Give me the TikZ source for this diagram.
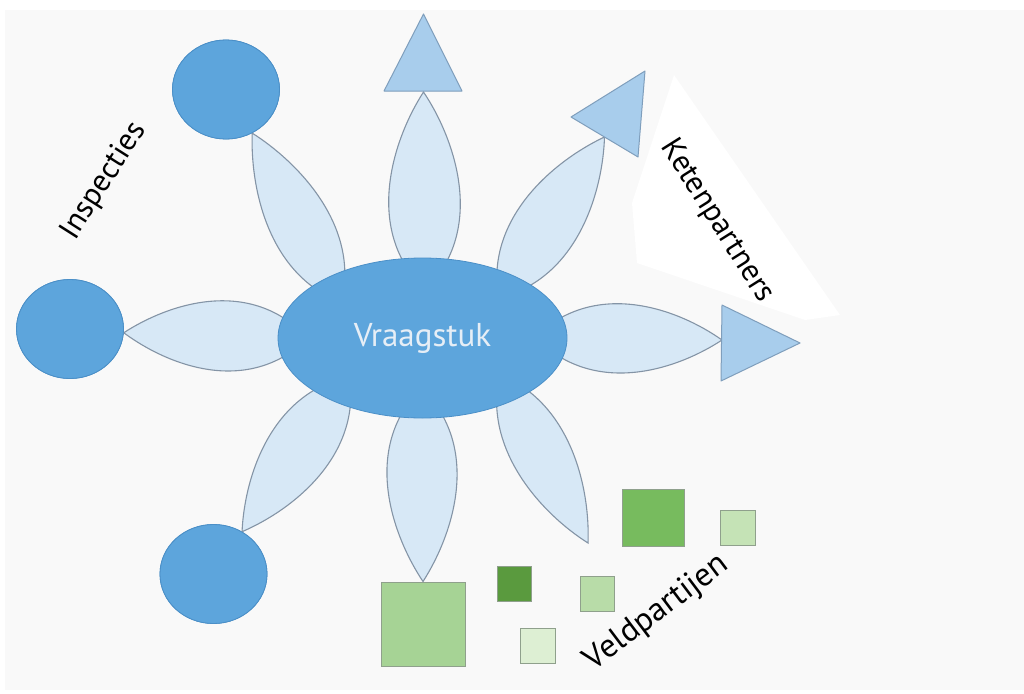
\documentclass[tikz,border=0pt]{standalone}
\usepackage{fontspec}
\setmainfont{PT Sans}
\usetikzlibrary{shapes.geometric,calc}
\definecolor{bgc}{HTML}{F9F9F9}
\definecolor{blobfill}{HTML}{5DA5DC}
\definecolor{blobline}{HTML}{4B8FC7}
\definecolor{trifill}{HTML}{A8CDEC}
\definecolor{triline}{HTML}{7F9EBC}
\definecolor{petfill}{HTML}{D7E8F6}
\definecolor{petline}{HTML}{8494A6}
\definecolor{sqline}{HTML}{8FA08C}
\definecolor{gA}{HTML}{A6D395}
\definecolor{gB}{HTML}{5A9A3E}
\definecolor{gC}{HTML}{77BB5E}
\definecolor{gD}{HTML}{C5E3B6}
\definecolor{gE}{HTML}{B8DCA8}
\definecolor{gF}{HTML}{DDEFD3}
\definecolor{vtext}{HTML}{E6EEF6}
\newcommand\petal[4]{%
  \draw[petalst] ($(#1)!-30pt!(#2)$)
    .. controls ($(#1)!30pt!(#2)!#3pt!90:(#2)$) and ($(#1)!0.72!(#2)!#4pt!90:(#2)$) .. (#2)
    .. controls ($(#1)!0.72!(#2)!#4pt!-90:(#2)$) and ($(#1)!30pt!(#2)!#3pt!-90:(#2)$) .. cycle;}
\begin{document}
\begin{tikzpicture}[x=1pt,y=-1pt,
  petalst/.style={fill=petfill,draw=petline,line width=1.1pt},
  blob/.style={ellipse,fill=blobfill,draw=blobline,line width=0.8pt,inner sep=0pt,minimum width=107pt,minimum height=99pt},
  bigell/.style={ellipse,fill=blobfill,draw=blobline,line width=0.8pt,inner sep=0pt,minimum width=289pt,minimum height=160pt,text=vtext,font=\fontsize{33}{38}\selectfont},
  tri/.style={fill=trifill,draw=triline,line width=1pt,line join=round},
  sq/.style={rectangle,draw=sqline,line width=1pt,inner sep=0pt},
  lbl/.style={font=\fontsize{31}{36}\selectfont,text=black,inner sep=0pt}]
\useasboundingbox (0,0) rectangle (1024,693);
\fill[white] (0,0) rectangle (1024,693);
\fill[bgc] (5,10) rectangle (1024,690);
\fill[white] (674,75) -- (632,203) -- (637,263) -- (805,320) -- (840,315) -- cycle;
% anchor nodes
\node[blob] (C1) at (226,89.5) {};
\node[blob] (C2) at (70,329) {};
\node[blob] (C3) at (213.5,574) {};
\node[sq,fill=gA,minimum width=84pt,minimum height=84pt] (S1) at (423,624) {};
% petal bases and free tips
\coordinate (B1) at (327.5,276);
\coordinate (B2) at (425,260);
\coordinate (B3) at (515,273);
\coordinate (B4) at (278,337.5);
\coordinate (B5) at (565,337.5);
\coordinate (B6) at (332.5,401);
\coordinate (B7) at (421.5,418);
\coordinate (B8) at (513.5,401);
\coordinate (T2) at (423.5,92);
\coordinate (T3) at (604.5,137);
\coordinate (T5) at (722,340);
\coordinate (T8) at (588,543);
% petals
\petal{B1}{C1.-59}{53}{26}
\petal{B2}{T2}{62}{31}
\petal{B3}{T3}{56}{28}
\petal{B4}{C2.-4}{61}{30}
\petal{B5}{T5}{60}{30}
\petal{B6}{C3.56}{56}{28}
\petal{B7}{S1.north}{61}{30}
\petal{B8}{T8}{51}{26}
% redraw nodes above petals
\node[blob] at (C1.center) {};
\node[blob] at (C2.center) {};
\node[blob] at (C3.center) {};
\node[sq,fill=gA,minimum width=84pt,minimum height=84pt] at (S1.center) {};
\node[bigell] (V) at (422.5,338) {Vraagstuk};
% triangles
\coordinate (a1) at (423.5,14); \coordinate (a2) at (384,91); \coordinate (a3) at (462,91);
\draw[tri] (a1) -- (a2) -- (a3) -- cycle;
\coordinate (b1) at (645,71); \coordinate (b2) at (571,117); \coordinate (b3) at (638,157);
\draw[tri] (b1) -- (b2) -- (b3) -- cycle;
\coordinate (c1) at (722,305); \coordinate (c2) at (800,343); \coordinate (c3) at (721,381);
\draw[tri] (c1) -- (c2) -- (c3) -- cycle;
% squares
\node[sq,fill=gB,minimum width=34pt,minimum height=35pt] (S2) at (514,583.5) {};
\node[sq,fill=gC,minimum width=62pt,minimum height=57pt] (S3) at (653,517.5) {};
\node[sq,fill=gD,minimum width=35pt,minimum height=35pt] (S4) at (737.5,527.5) {};
\node[sq,fill=gE,minimum width=34pt,minimum height=35pt] (S5) at (597,593.5) {};
\node[sq,fill=gF,minimum width=35pt,minimum height=35pt] (S6) at (537.5,645.5) {};
% labels
\node[lbl,rotate=57.6] (L1) at (104,181) {Inspecties};
\node[lbl,rotate=-57.8] (L2) at (717,221) {Ketenpartners};
\node[lbl,rotate=37,font=\fontsize{33}{38}\selectfont] (L3) at (657,613) {Veldpartijen};
\end{tikzpicture}
\end{document}
